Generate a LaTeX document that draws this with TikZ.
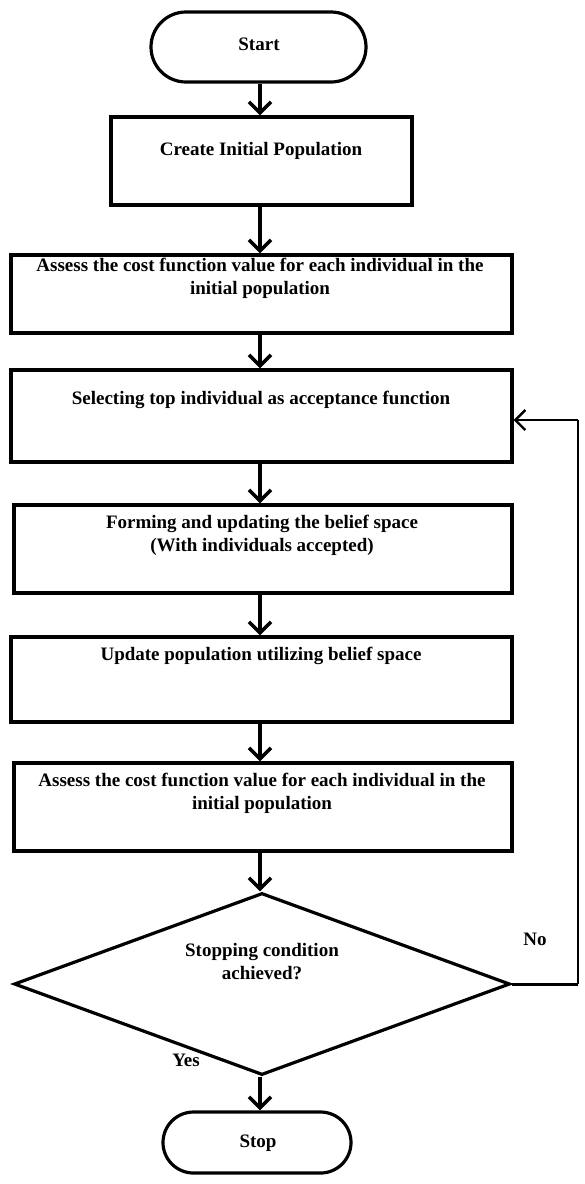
\documentclass[tikz,border=0pt]{standalone}
\usepackage{fontspec}
\setmainfont{Liberation Serif}
\usetikzlibrary{arrows.meta,shapes.geometric,shapes.misc}
\begin{document}
\begin{tikzpicture}[x=0.5pt,y=-0.5pt,
  box/.style={draw,line width=1.6pt,inner sep=0pt},
  term/.style={draw,line width=1.6pt,rounded rectangle,inner sep=0pt},
  lbl/.style={font=\bfseries\fontsize{9.5}{11.5}\selectfont,align=center,inner sep=0pt},
  arr/.style={line width=2pt,-{Straight Barb[length=5.5pt,width=11pt,line width=1.8pt]}},
  thinarr/.style={line width=1.3pt,-{Straight Barb[length=5pt,width=10pt,line width=1.2pt]}}]
\useasboundingbox (0,0) rectangle (584,1184);
\node[term,minimum width=107.5pt,minimum height=35pt] (start) at (258.5,47) {};
\node[box,minimum width=150.5pt,minimum height=44pt] (b1) at (261.5,161) {};
\node[box,minimum width=250.5pt,minimum height=39pt] (b2) at (261.5,294) {};
\node[box,minimum width=250.5pt,minimum height=46pt] (b3) at (261.5,416) {};
\node[box,minimum width=249pt,minimum height=44pt] (b4) at (263,549) {};
\node[box,minimum width=250.5pt,minimum height=42.5pt] (b5) at (261.5,679.5) {};
\node[box,minimum width=249pt,minimum height=44pt] (b6) at (263,807) {};
\node[draw,line width=1.6pt,diamond,inner sep=0pt,minimum width=248pt,minimum height=91pt] (dia) at (262,984) {};
\node[term,minimum width=94pt,minimum height=30.5pt] (stop) at (257,1142.5) {};

\node[lbl] (tstart) at (259,44) {Start};
\node[lbl] (t1) at (261,151) {Create Initial Population};
\node[lbl] (t2) at (260,278) {Assess the cost function value for each individual in the\\initial population};
\node[lbl] (t3) at (261,400) {Selecting top individual as acceptance function};
\node[lbl] (t4) at (262,535) {Forming and updating the belief space\\(With individuals accepted)};
\node[lbl] (t5) at (261,656) {Update population utilizing belief space};
\node[lbl] (t6) at (262,793) {Assess the cost function value for each individual in the\\initial population};
\node[lbl] (td) at (262,962) {Stopping condition\\achieved?};
\node[lbl] (tno) at (535,939) {No};
\node[lbl] (tyes) at (186,1060) {Yes};
\node[lbl] (tstop) at (258,1143) {Stop};

\coordinate (ax) at (260,0);
\draw[arr] (start.south -| ax) -- (b1.north -| ax);
\draw[arr] (b1.south -| ax) -- (b2.north -| ax);
\draw[arr] (b2.south -| ax) -- (b3.north -| ax);
\draw[arr] (b3.south -| ax) -- (b4.north -| ax);
\draw[arr] (b4.south -| ax) -- (b5.north -| ax);
\draw[arr] (b5.south -| ax) -- (b6.north -| ax);
\draw[arr] (b6.south -| ax) -- (dia.north -| ax);
\draw[arr] (dia.south -| ax) -- (stop.north -| ax);

\coordinate (c1) at (578,984);
\coordinate (c2) at (578,420);
\draw[line width=1.5pt] (dia.east) -- (c1);
\draw[line width=0.7pt] (c1) -- (c2);
\draw[thinarr] (c2) -- (b3.east |- c2);
\end{tikzpicture}
\end{document}
